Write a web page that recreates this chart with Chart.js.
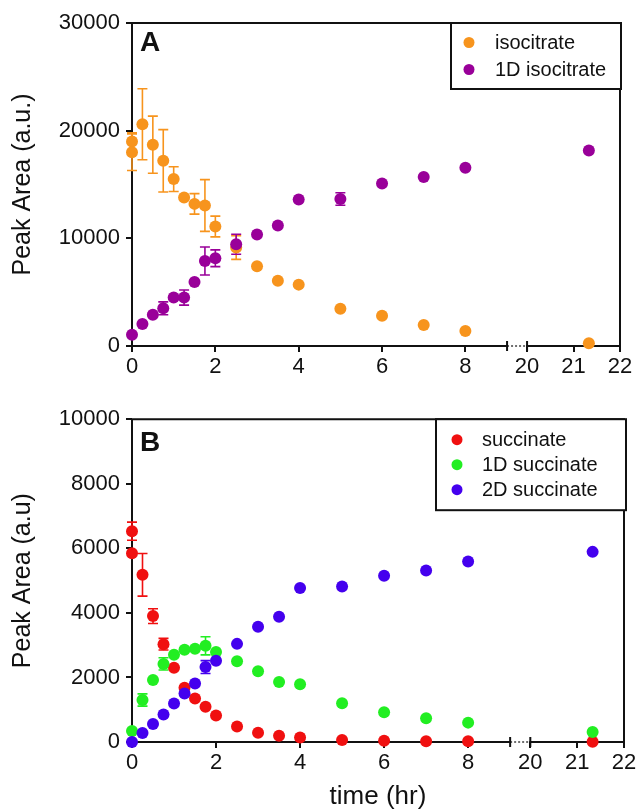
<!DOCTYPE html>
<html><head><meta charset="utf-8">
<script src="https://cdn.jsdelivr.net/npm/chart.js@4.4.1/dist/chart.umd.min.js"></script>
<style>
html,body{margin:0;padding:0;background:#fff;}
#wrapA{position:absolute;left:0;top:0;width:640px;height:400px;}
#wrapB{position:absolute;left:0;top:400px;width:640px;height:412px;}
</style></head><body>
<div id="wrapA"><canvas id="cA" width="640" height="400"></canvas></div>
<div id="wrapB"><canvas id="cB" width="640" height="412"></canvas></div>
<script>
// ---------- data ----------
const xTickTimes  = [0, 2, 4, 6, 8, 20, 21, 22];
const xTickLabels = ['0', '2', '4', '6', '8', '20', '21', '22'];
const yTicksA = [0, 10000, 20000, 30000];
const yTicksB = [0, 2000, 4000, 6000, 8000, 10000];

// Panel A
const isoTimes  = [0, 0, 0.25, 0.5, 0.75, 1, 1.25, 1.5, 1.75, 2, 2.5, 3, 3.5, 4, 5, 6, 7, 8, 21.33];
const isoValues = [19000, 18000, 20600, 18700, 17200, 15500, 13800, 13200, 13050, 11100, 9150, 7400, 6050, 5700, 3450, 2800, 1950, 1400, 250];
const isoErrors = [800, 1700, 3300, 2650, 2900, 1150, null, 950, 2400, 960, 1100, null, null, null, null, null, null, null, null];

const iso1DTimes  = [0, 0.25, 0.5, 0.75, 1, 1.25, 1.5, 1.75, 2, 2.5, 3, 3.5, 4, 5, 6, 7, 8, 21.33];
const iso1DValues = [1050, 2050, 2900, 3500, 4500, 4500, 5950, 7900, 8150, 9450, 10350, 11200, 13600, 13650, 15100, 15700, 16550, 18150];
const iso1DErrors = [null, null, null, 600, null, 700, null, 1300, 780, 930, null, null, null, 580, null, null, null, null];

// Panel B
const sucTimes  = [0, 0, 0.25, 0.5, 0.75, 1, 1.25, 1.5, 1.75, 2, 2.5, 3, 3.5, 4, 5, 6, 7, 8, 21.33];
const sucValues = [6530, 5850, 5180, 3900, 3030, 2300, 1680, 1350, 1090, 820, 480, 290, 190, 140, 60, 40, 20, 20, 10];
const sucErrors = [280, null, 660, 230, 180, null, null, null, null, null, null, null, null, null, null, null, null, null, null];

const suc1DTimes  = [0, 0.25, 0.5, 0.75, 1, 1.25, 1.5, 1.75, 2, 2.5, 3, 3.5, 4, 5, 6, 7, 8, 21.33];
const suc1DValues = [340, 1300, 1920, 2420, 2700, 2860, 2890, 2980, 2790, 2500, 2190, 1860, 1790, 1200, 920, 735, 600, 310];
const suc1DErrors = [null, 190, null, 190, null, null, null, 280, null, null, null, null, null, null, null, null, null, null];

const suc2DTimes  = [0, 0.25, 0.5, 0.75, 1, 1.25, 1.5, 1.75, 2, 2.5, 3, 3.5, 4, 5, 6, 7, 8, 21.33];
const suc2DValues = [0, 280, 560, 850, 1190, 1500, 1810, 2320, 2520, 3040, 3570, 3880, 4770, 4820, 5150, 5310, 5590, 5890];
const suc2DErrors = [null, null, null, null, null, null, null, 200, null, null, null, null, null, null, null, null, null, null];

// ---------- broken time axis ----------
const BREAK_END = 9, BREAK_GAP = 0.48, SEG2_START = 20, SEG2_SCALE = 1.115;
function u(t) { return t <= BREAK_END ? t : BREAK_END + BREAK_GAP + (t - SEG2_START) * SEG2_SCALE; }
const X_MAX = u(22);

const FONT = "'Liberation Sans', Arial, Helvetica, sans-serif";
const INK = '#111';

function pts(times, vals) { return times.map((t, i) => ({ x: u(t), y: vals[i] })); }

function ds(label, times, vals, errs, color, order) {
  return { label, data: pts(times, vals), errors: errs, backgroundColor: color, borderColor: color,
           pointRadius: 6, pointBorderWidth: 0, pointHoverRadius: 6, showLine: false, clip: false, order };
}

// ---------- plugins ----------
const framePlugin = {
  id: 'frame',
  beforeDatasetsDraw(chart) {
    const { ctx, chartArea: a } = chart;
    const xs = chart.scales.x;
    const b1 = xs.getPixelForValue(BREAK_END), b2 = xs.getPixelForValue(BREAK_END + BREAK_GAP);
    ctx.save();
    ctx.strokeStyle = INK; ctx.lineWidth = 2; ctx.lineCap = 'square';
    ctx.beginPath();
    ctx.moveTo(a.left, a.bottom); ctx.lineTo(a.left, a.top); ctx.lineTo(a.right, a.top); ctx.lineTo(a.right, a.bottom);
    ctx.moveTo(a.left, a.bottom); ctx.lineTo(b1, a.bottom);
    ctx.moveTo(b2, a.bottom); ctx.lineTo(a.right, a.bottom);
    ctx.stroke();
    ctx.lineCap = 'butt';
    ctx.beginPath();
    ctx.moveTo(b1, a.bottom - 5); ctx.lineTo(b1, a.bottom + 5);
    ctx.moveTo(b2, a.bottom - 5); ctx.lineTo(b2, a.bottom + 5);
    ctx.stroke();
    ctx.lineWidth = 1.2; ctx.setLineDash([2, 2]);
    ctx.beginPath(); ctx.moveTo(b1, a.bottom); ctx.lineTo(b2, a.bottom); ctx.stroke();
    ctx.restore();
  }
};

const errorBarPlugin = {
  id: 'errorBars',
  beforeDatasetsDraw(chart) {
    const { ctx } = chart;
    const xs = chart.scales.x, ys = chart.scales.y;
    ctx.save();
    ctx.lineWidth = 1.6;
    chart.data.datasets.forEach(d => {
      if (!d.errors) return;
      ctx.strokeStyle = d.borderColor;
      d.data.forEach((p, i) => {
        const e = d.errors[i];
        if (e == null) return;
        const px = xs.getPixelForValue(p.x);
        const y1 = ys.getPixelForValue(p.y + e), y2 = ys.getPixelForValue(p.y - e);
        ctx.beginPath();
        ctx.moveTo(px, y1); ctx.lineTo(px, y2);
        ctx.moveTo(px - 5, y1); ctx.lineTo(px + 5, y1);
        ctx.moveTo(px - 5, y2); ctx.lineTo(px + 5, y2);
        ctx.stroke();
      });
    });
    ctx.restore();
  }
};

const boxLegendPlugin = {
  id: 'boxLegend',
  afterDatasetsDraw(chart, args, opts) {
    const { ctx, chartArea: a } = chart;
    const dsets = chart.data.datasets;
    const L = a.right + opts.dxRight - opts.width, T = a.top, R = a.right + opts.dxRight;
    const H = opts.rowH * dsets.length + opts.padV * 2;
    ctx.save();
    ctx.fillStyle = '#fff';
    ctx.fillRect(L, T, R - L, H);
    ctx.strokeStyle = INK; ctx.lineWidth = 2;
    ctx.strokeRect(L, T, R - L, H);
    ctx.font = '20px ' + FONT;
    ctx.textBaseline = 'middle'; ctx.textAlign = 'left';
    dsets.forEach((d, i) => {
      const cy = T + opts.padV + opts.rowH * (i + 0.5);
      ctx.fillStyle = d.backgroundColor;
      ctx.beginPath(); ctx.arc(L + opts.markerX, cy, 5.5, 0, Math.PI * 2); ctx.fill();
      ctx.fillStyle = INK;
      ctx.fillText(d.label, L + opts.textX, cy + 1);
    });
    ctx.restore();
  }
};

const panelLetterPlugin = {
  id: 'panelLetter',
  afterDraw(chart, args, opts) {
    const { ctx, chartArea: a } = chart;
    ctx.save();
    ctx.fillStyle = INK;
    ctx.font = 'bold 28px ' + FONT;
    ctx.textBaseline = 'alphabetic'; ctx.textAlign = 'left';
    ctx.fillText(opts.text, a.left + 8, a.top + opts.dy);
    ctx.restore();
  }
};

// ---------- scales ----------
function xScale(withTitle, height) {
  return {
    type: 'linear', min: 0, max: X_MAX,
    afterBuildTicks: s => { s.ticks = xTickTimes.map(t => ({ value: u(t) })); },
    afterFit: s => { s.height = height; },
    ticks: { autoSkip: false, maxRotation: 0, padding: 2, color: INK, font: { family: FONT, size: 22 },
             callback: (v, i) => xTickLabels[i] },
    grid: { drawOnChartArea: false, drawTicks: true, tickLength: 6, color: INK, lineWidth: 2 },
    border: { display: false },
    title: { display: withTitle, text: 'time (hr)', color: INK, font: { family: FONT, size: 26 }, padding: { top: 0, bottom: 0 } }
  };
}
function yScale(ticksArr, title) {
  return {
    type: 'linear', min: ticksArr[0], max: ticksArr[ticksArr.length - 1],
    afterBuildTicks: s => { s.ticks = ticksArr.map(v => ({ value: v })); },
    afterFit: s => { s.width = 132; },
    ticks: { padding: 6, color: INK, font: { family: FONT, size: 22 }, callback: v => String(v) },
    grid: { drawOnChartArea: false, drawTicks: true, tickLength: 6, color: INK, lineWidth: 2 },
    border: { display: false },
    title: { display: true, text: title, color: INK, font: { family: FONT, size: 25 }, padding: { top: 8, bottom: 0 } }
  };
}

const common = {
  responsive: false, animation: false, events: [],
  plugins: { legend: { display: false }, tooltip: { enabled: false } }
};

new Chart(document.getElementById('cA'), {
  type: 'scatter',
  data: { datasets: [
    ds('isocitrate', isoTimes, isoValues, isoErrors, '#F7941D', 2),
    ds('1D isocitrate', iso1DTimes, iso1DValues, iso1DErrors, '#990099', 1)
  ] },
  options: Object.assign({}, common, {
    layout: { padding: { top: 23, right: 20, left: 0, bottom: 0 } },
    scales: { x: xScale(false, 54), y: yScale(yTicksA, 'Peak Area (a.u.)') },
    plugins: Object.assign({}, common.plugins, {
      boxLegend: { width: 170, dxRight: 1, rowH: 27, padV: 6, markerX: 18, textX: 44 },
      panelLetter: { text: 'A', dy: 28 }
    })
  }),
  plugins: [framePlugin, errorBarPlugin, boxLegendPlugin, panelLetterPlugin]
});

new Chart(document.getElementById('cB'), {
  type: 'scatter',
  data: { datasets: [
    ds('succinate', sucTimes, sucValues, sucErrors, '#F01010', 3),
    ds('1D succinate', suc1DTimes, suc1DValues, suc1DErrors, '#22EE22', 2),
    ds('2D succinate', suc2DTimes, suc2DValues, suc2DErrors, '#4400EE', 1)
  ] },
  options: Object.assign({}, common, {
    layout: { padding: { top: 14, right: 16, left: 0, bottom: 0 } },
    scales: { x: xScale(true, 70), y: yScale(yTicksB, 'Peak Area (a.u)') },
    plugins: Object.assign({}, common.plugins, {
      boxLegend: { width: 190, dxRight: 2, rowH: 25, padV: 8, markerX: 21, textX: 46 },
      panelLetter: { text: 'B', dy: 32 }
    })
  }),
  plugins: [framePlugin, errorBarPlugin, boxLegendPlugin, panelLetterPlugin]
});
</script>
</body></html>
